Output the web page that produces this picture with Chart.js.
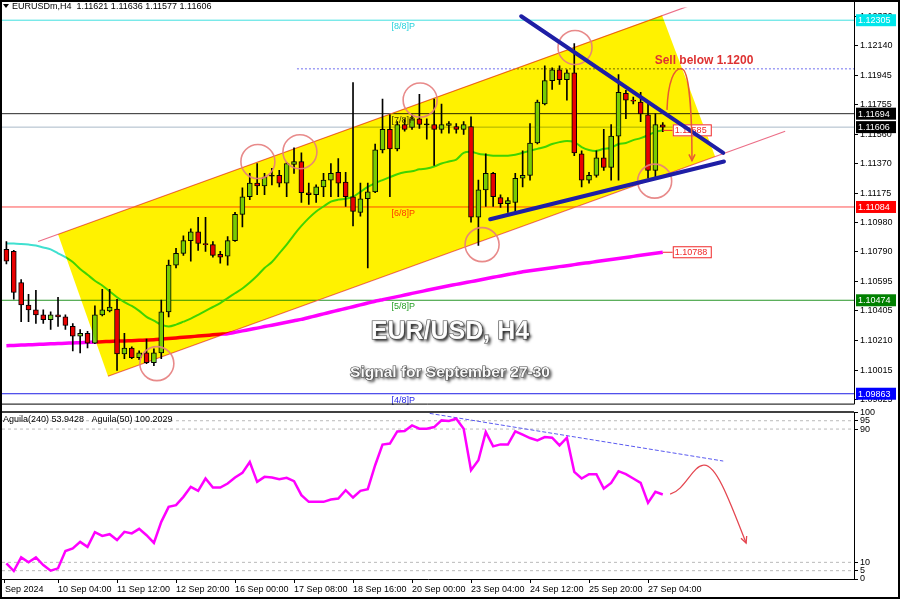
<!DOCTYPE html>
<html><head><meta charset="utf-8">
<script src="https://cdn.jsdelivr.net/npm/chart.js@4.4.1/dist/chart.umd.min.js"></script>
<style>
html,body{margin:0;padding:0;background:#fff;}
#wrap{position:relative;width:900px;height:599px;overflow:hidden;background:#fff;}
#c1{position:absolute;left:0;top:0;width:900px;height:411px;}
#c2{position:absolute;left:0;top:405px;width:900px;height:194px;}
#frame{position:absolute;left:0;top:0;width:900px;height:599px;box-sizing:border-box;border:2px solid #000;pointer-events:none;}
</style></head><body>
<div id="wrap"><canvas id="c1" width="900" height="411"></canvas><canvas id="c2" width="900" height="194"></canvas><div id="frame"></div></div>
<script>
// ---------- DATA ----------
const barIndex = Array.from({length:90},(_,i)=>i);
const openP = [1.10807,1.10794,1.10590,1.10443,1.10411,1.10379,1.10347,1.10379,1.10366,1.10303,
1.10239,1.10258,1.10194,1.10379,1.10405,1.10417,1.10124,1.10162,1.10098,1.10130,
1.10066,1.10130,1.10398,1.10704,1.10781,1.10864,1.10921,1.10845,1.10838,1.10775,
1.10762,1.10864,1.11036,1.11151,1.11240,1.11221,1.11285,1.11291,1.11240,1.11362,
1.11381,1.11177,1.11164,1.11215,1.11260,1.11311,1.11247,1.11151,1.11049,1.11138,
1.11183,1.11457,1.11591,1.11464,1.11623,1.11604,1.11661,1.11623,1.11623,1.11591,
1.11617,1.11610,1.11591,1.11610,1.11017,1.11196,1.11304,1.11145,1.11106,1.11113,
1.11272,1.11291,1.11502,1.11757,1.11910,1.11980,1.11917,1.11961,1.11432,1.11260,
1.11291,1.11406,1.11342,1.11547,1.11827,1.11783,1.11770,1.11687,1.11323,1.11621];
const highP = [1.10858,1.10800,1.10609,1.10513,1.10539,1.10411,1.10398,1.10494,1.10379,1.10322,
1.10283,1.10271,1.10437,1.10545,1.10545,1.10481,1.10258,1.10169,1.10143,1.10220,
1.10156,1.10475,1.10736,1.10813,1.10896,1.10941,1.11017,1.11017,1.10858,1.10794,
1.10890,1.11049,1.11209,1.11304,1.11368,1.11304,1.11336,1.11323,1.11374,1.11470,
1.11438,1.11240,1.11228,1.11304,1.11368,1.11400,1.11311,1.11898,1.11240,1.11240,
1.11496,1.11789,1.11687,1.11642,1.11661,1.11687,1.11821,1.11661,1.11789,1.11757,
1.11642,1.11630,1.11642,1.11674,1.11260,1.11432,1.11311,1.11164,1.11145,1.11304,
1.11451,1.11630,1.11783,1.12006,1.11993,1.12006,1.11980,1.12153,1.11451,1.11311,
1.11451,1.11591,1.11623,1.11949,1.11847,1.11802,1.11834,1.11757,1.11693,1.11636];
const lowP = [1.10711,1.10481,1.10334,1.10334,1.10322,1.10322,1.10283,1.10303,1.10283,1.10143,
1.10130,1.10162,1.10190,1.10372,1.10398,1.10015,1.10092,1.10092,1.10086,1.10060,
1.10047,1.10092,1.10366,1.10685,1.10768,1.10730,1.10800,1.10794,1.10756,1.10717,
1.10704,1.10858,1.10953,1.11132,1.11164,1.11164,1.11228,1.11215,1.11151,1.11304,
1.11113,1.11100,1.11113,1.11151,1.11151,1.11151,1.11087,1.10960,1.11024,1.10685,
1.11177,1.11438,1.11151,1.11451,1.11579,1.11591,1.11598,1.11528,1.11355,1.11566,
1.11566,1.11566,1.11559,1.10985,1.10832,1.11087,1.11087,1.11081,1.11049,1.11055,
1.11215,1.11260,1.11496,1.11751,1.11853,1.11885,1.11783,1.11419,1.11215,1.11240,
1.11279,1.11323,1.11260,1.11260,1.11661,1.11757,1.11642,1.11272,1.11279,1.11577];
const closeP = [1.10730,1.10526,1.10443,1.10411,1.10379,1.10347,1.10379,1.10366,1.10309,1.10239,
1.10258,1.10194,1.10379,1.10411,1.10430,1.10124,1.10162,1.10098,1.10130,1.10066,
1.10130,1.10398,1.10704,1.10781,1.10864,1.10921,1.10845,1.10838,1.10768,1.10756,
1.10864,1.11036,1.11151,1.11240,1.11221,1.11279,1.11287,1.11240,1.11368,1.11381,
1.11177,1.11164,1.11215,1.11260,1.11304,1.11240,1.11151,1.11055,1.11138,1.11183,
1.11457,1.11591,1.11464,1.11623,1.11591,1.11661,1.11623,1.11621,1.11591,1.11623,
1.11630,1.11591,1.11623,1.11017,1.11196,1.11304,1.11151,1.11106,1.11126,1.11272,
1.11291,1.11502,1.11770,1.11910,1.11980,1.11917,1.11961,1.11438,1.11260,1.11291,
1.11406,1.11342,1.11547,1.11834,1.11783,1.11776,1.11693,1.11323,1.11623,1.11606];
const ma21 = [1.10845,1.10845,1.10842,1.10838,1.10832,1.10819,1.10807,1.10781,1.10756,1.10724,
1.10679,1.10641,1.10602,1.10571,1.10532,1.10494,1.10462,1.10437,1.10405,1.10366,
1.10341,1.10315,1.10303,1.10315,1.10334,1.10354,1.10379,1.10405,1.10430,1.10456,
1.10488,1.10520,1.10551,1.10590,1.10634,1.10685,1.10724,1.10781,1.10838,1.10902,
1.10960,1.11011,1.11055,1.11087,1.11119,1.11132,1.11138,1.11151,1.11183,1.11215,
1.11240,1.11260,1.11279,1.11298,1.11311,1.11317,1.11330,1.11336,1.11349,1.11368,
1.11381,1.11394,1.11438,1.11445,1.11432,1.11425,1.11419,1.11419,1.11419,1.11425,
1.11438,1.11451,1.11464,1.11476,1.11496,1.11508,1.11515,1.11508,1.11476,1.11457,
1.11451,1.11464,1.11470,1.11496,1.11502,1.11521,1.11534,1.11553,1.11575,1.11585];
const ma200 = [1.10177,1.10179,1.10181,1.10183,1.10185,1.10187,1.10189,1.10191,1.10193,1.10195,
1.10197,1.10199,1.10201,1.10203,1.10205,1.10207,1.10208,1.10210,1.10212,1.10214,
1.10216,1.10220,1.10224,1.10228,1.10232,1.10236,1.10240,1.10244,1.10248,1.10252,
1.10255,1.10264,1.10274,1.10283,1.10292,1.10302,1.10311,1.10321,1.10330,1.10340,
1.10349,1.10361,1.10373,1.10385,1.10397,1.10409,1.10420,1.10432,1.10444,1.10456,
1.10468,1.10478,1.10488,1.10498,1.10508,1.10519,1.10529,1.10539,1.10549,1.10559,
1.10569,1.10578,1.10587,1.10596,1.10605,1.10615,1.10624,1.10633,1.10642,1.10651,
1.10660,1.10667,1.10674,1.10680,1.10687,1.10694,1.10700,1.10707,1.10714,1.10720,
1.10727,1.10734,1.10741,1.10747,1.10754,1.10761,1.10768,1.10775,1.10781,1.10788];
const aguila = [9.4,4.8,13.0,10.0,13.0,8.4,5.0,6.4,16.8,18.4,
22.3,19.3,28.1,25.9,26.9,23.4,28.3,27.4,30.1,26.3,
21.7,34.3,43.3,44.3,49.3,55.3,52.9,60.3,54.9,54.9,
57.3,60.9,63.7,70.2,58.3,61.3,60.9,59.9,60.7,58.7,
50.3,46.3,46.3,46.3,47.7,48.3,53.3,48.9,52.9,53.9,
68.3,80.7,81.3,88.6,88.8,92.2,90.2,90.2,91.2,95.2,
94.9,96.2,90.2,65.3,71.3,88.2,79.6,80.8,80.7,88.6,
86.6,84.6,83.2,85.2,84.8,80.2,84.8,64.3,60.3,62.9,
62.9,54.3,57.7,64.7,62.9,60.3,57.7,45.7,52.3,50.7];
const priceTicks = [1.12330,1.12140,1.11945,1.11755,1.11560,1.11370,1.11175,1.10980,1.10790,1.10595,1.10405,1.10210,1.10015,1.09825];
const indTicks = [100,95,90,10,5,0];
const indLevels = [95,90,10,5];
const xTickBars = [-0.2,7,15,23,31,39,47,55,63,71,79,87];
const xTickLabels = ['Sep 2024','10 Sep 04:00','11 Sep 12:00','12 Sep 20:00','16 Sep 00:00','17 Sep 08:00','18 Sep 16:00','20 Sep 00:00','23 Sep 04:00','24 Sep 12:00','25 Sep 20:00','27 Sep 04:00'];
const levelPrices = [1.12305,1.11694,1.11606,1.11084,1.10474,1.09863];
const levelTags = ['[8/8]P','[7/8]P','','[6/8]P','[5/8]P','[4/8]P'];
const sellLevel = 1.11987;
const sellLevelStartBar = 39.4;
const channelUpper = [[4.3,1.10858],[92.7,1.12401]];
const channelLower = [[13.78,1.09977],[105.6,1.11579]];
const channelFill = [[7.0,1.10905],[88.9,1.12338],[96.1,1.11414],[13.78,1.09977]];
const triUpper = [[69.8,1.12331],[97.2,1.11438]];
const triLower = [[65.6,1.11004],[97.3,1.11381]];
const circles = [[20.4,1.10060],[34.1,1.11381],[39.8,1.11445],[56.1,1.11783],[64.5,1.10838],[77.1,1.12127],[87.9,1.11253]];
const sellArrow = [[89.57,1.11719],[89.71,1.11898],[90.52,1.12000],[91.61,1.11987],[92.56,1.11974],[92.96,1.11706],[92.96,1.11387]];
const indTrend = [[57.4,99.4],[97.2,70.8]];
const indArrow = [[90.0,50.9],[92.0,53.3],[93.0,67.7],[94.5,68.3],[96.1,69.5],[97.8,50.3],[100.3,21.6]];
const sellText = 'Sell below 1.1200';
const sellTextAnchor = [87.9,1.12038];
const titleText = 'EUR/USD, H4';
const subtitleText = 'Signal for September 27-30';
const indHeader = 'Aguila(240) 53.9428   Aguila(50) 100.2029';

// ---------- STYLE / LAYOUT ----------
const FONT = '"Liberation Sans", Arial, sans-serif';
const X_MIN = -0.597, X_MAX = 114.93;
const Y_MIN = 1.097985, Y_MAX = 1.123888;
const levelColors = ['rgb(64,224,224)','rgb(40,40,40)','rgb(170,185,200)','rgb(255,80,80)','rgb(40,150,40)','rgb(30,30,230)'];
const levelTagColors = ['rgb(40,210,220)','rgb(60,60,60)','','rgb(255,60,40)','rgb(40,160,40)','rgb(40,40,230)'];
const levelBoxBg = ['rgb(0,230,235)','#000','#000','#f00','#008000','#0000ff'];
const TAG_BAR = 53.8;
const pts = a => a.map(p=>({x:p[0],y:p[1]}));
const GREEN='rgb(120,214,44)', RED='rgb(232,0,0)';
const bodyColor = barIndex.map(i => Math.abs(closeP[i]-openP[i]) < 0.00003 ? '#000' : (closeP[i] > openP[i] ? GREEN : RED));

Chart.defaults.font.family = FONT;

function arrowHead(ctx, fx, fy, tx, ty, len){
  const a = Math.atan2(ty-fy, tx-fx);
  ctx.beginPath();
  ctx.moveTo(tx - len*Math.cos(a-0.45), ty - len*Math.sin(a-0.45));
  ctx.lineTo(tx, ty);
  ctx.lineTo(tx - len*Math.cos(a+0.45), ty - len*Math.sin(a+0.45));
  ctx.stroke();
}

const mainPlugin = {
  id:'mainDecor',
  afterDatasetsDraw(chart){
    const ctx=chart.ctx, xs=chart.scales.x, ys=chart.scales.y, ca=chart.chartArea;
    const X=v=>xs.getPixelForValue(v), Y=v=>ys.getPixelForValue(v);
    ctx.save();
    ctx.font='9px '+FONT; ctx.textAlign='center'; ctx.textBaseline='top';
    levelTags.forEach((t,k)=>{ if(!t) return; ctx.fillStyle=levelTagColors[k]; ctx.fillText(t, X(TAG_BAR), Y(levelPrices[k])+2); });
    ctx.restore();
    ctx.save();
    ctx.beginPath(); ctx.rect(ca.left,ca.top,ca.right-ca.left,ca.bottom-ca.top); ctx.clip();
    ctx.globalCompositeOperation='multiply';
    ctx.fillStyle='rgb(255,242,0)';
    ctx.beginPath();
    channelFill.forEach((p,k)=>{const px=X(p[0]),py=Y(p[1]); if(k) ctx.lineTo(px,py); else ctx.moveTo(px,py);});
    ctx.closePath(); ctx.fill();
    ctx.restore();
    ctx.save();
    ctx.font='9px '+FONT; ctx.textBaseline='middle'; ctx.textAlign='left';
    [ma21[89], ma200[89]].forEach(v=>{
      const x0=X(89), bx=x0+10, by=Y(v);
      ctx.strokeStyle='rgb(240,40,40)'; ctx.lineWidth=1;
      ctx.beginPath(); ctx.moveTo(x0,by); ctx.lineTo(bx,by); ctx.stroke();
      ctx.fillStyle='#fff'; ctx.fillRect(bx,by-6,39,12);
      ctx.strokeRect(bx+0.5,by-5.5,38,11);
      ctx.fillStyle='rgb(240,40,40)'; ctx.fillText(v.toFixed(5), bx+2, by+0.5);
    });
    ctx.restore();
    ctx.save();
    ctx.beginPath(); ctx.rect(ca.left,ca.top,ca.right-ca.left,ca.bottom-ca.top); ctx.clip();
    ctx.strokeStyle='rgba(230,125,125,0.9)'; ctx.lineWidth=1.6;
    circles.forEach(c=>{ ctx.beginPath(); ctx.arc(X(c[0]),Y(c[1]),17,0,Math.PI*2); ctx.stroke(); });
    ctx.strokeStyle='rgb(30,30,165)'; ctx.lineWidth=4; ctx.lineCap='round';
    [triUpper,triLower].forEach(l=>{ ctx.beginPath(); ctx.moveTo(X(l[0][0]),Y(l[0][1])); ctx.lineTo(X(l[1][0]),Y(l[1][1])); ctx.stroke(); });
    const A=sellArrow.map(p=>[X(p[0]),Y(p[1])]);
    ctx.strokeStyle='rgb(232,90,50)'; ctx.lineWidth=1.5; ctx.lineCap='butt';
    ctx.beginPath(); ctx.moveTo(A[0][0],A[0][1]);
    ctx.bezierCurveTo(A[1][0],A[1][1],A[2][0],A[2][1],A[3][0],A[3][1]);
    ctx.bezierCurveTo(A[4][0],A[4][1],A[5][0],A[5][1],A[6][0],A[6][1]);
    ctx.stroke();
    arrowHead(ctx,A[5][0],A[5][1],A[6][0],A[6][1],7);
    ctx.restore();
    ctx.save();
    ctx.font='bold 12px '+FONT; ctx.fillStyle='rgb(222,50,50)'; ctx.textBaseline='middle'; ctx.textAlign='left';
    ctx.fillText(sellText, X(sellTextAnchor[0]), Y(sellTextAnchor[1]));
    const cx=(ca.left+ca.right)/2 + 22;
    ctx.textAlign='center';
    [[titleText,'bold 25px ',332],[subtitleText,'bold 15.5px ',373]].forEach(t=>{
      ctx.font=t[1]+FONT;
      ctx.shadowColor='rgba(0,0,0,0.9)'; ctx.shadowOffsetX=2; ctx.shadowOffsetY=2; ctx.shadowBlur=3;
      ctx.fillStyle='#fff'; ctx.fillText(t[0],cx,t[2]);
      ctx.shadowColor='transparent';
      ctx.lineWidth=1.2; ctx.strokeStyle='rgba(60,60,60,0.95)'; ctx.strokeText(t[0],cx,t[2]);
      ctx.fillStyle='rgba(255,255,255,0.92)'; ctx.fillText(t[0],cx,t[2]);
    });
    ctx.restore();
  },
  afterDraw(chart){
    const ctx=chart.ctx, ys=chart.scales.y, ca=chart.chartArea;
    const Y=v=>ys.getPixelForValue(v);
    ctx.save();
    ctx.strokeStyle='#000'; ctx.lineWidth=1;
    ctx.beginPath(); ctx.moveTo(ca.right+0.5,0); ctx.lineTo(ca.right+0.5,ca.bottom+0.5); ctx.lineTo(0,ca.bottom+0.5); ctx.stroke();
    ctx.font='9px '+FONT; ctx.textBaseline='middle'; ctx.textAlign='left';
    levelPrices.forEach((v,k)=>{
      const val = k===2 ? closeP[89] : v;
      const y=Y(val);
      ctx.fillStyle=levelBoxBg[k]; ctx.fillRect(ca.right+2,y-6,40,12);
      ctx.fillStyle='#fff'; ctx.fillText(val.toFixed(5), ca.right+4, y+0.5);
    });
    ctx.fillStyle='#000'; ctx.font='9px '+FONT; ctx.textBaseline='middle';
    ctx.beginPath(); ctx.moveTo(3,4); ctx.lineTo(9,4); ctx.lineTo(6,8); ctx.closePath(); ctx.fill();
    ctx.fillText('EURUSDm,H4  '+openP[89].toFixed(5)+' '+highP[89].toFixed(5)+' '+lowP[89].toFixed(5)+' '+closeP[89].toFixed(5), 12, 6.5);
    ctx.restore();
  }
};

const mainDatasets = [];
levelPrices.forEach((v,k)=>mainDatasets.push({type:'line', data:[{x:X_MIN,y:v},{x:X_MAX,y:v}], borderColor:levelColors[k], borderWidth:1, pointRadius:0, order:60}));
mainDatasets.push({type:'line', data:[{x:sellLevelStartBar,y:sellLevel},{x:X_MAX,y:sellLevel}], borderColor:'rgb(110,110,240)', borderWidth:1, borderDash:[2,2], pointRadius:0, order:55});
mainDatasets.push({type:'line', data:pts(channelUpper), borderColor:'rgb(236,110,135)', borderWidth:1.2, pointRadius:0, order:50});
mainDatasets.push({type:'line', data:pts(channelLower), borderColor:'rgb(236,110,135)', borderWidth:1.2, pointRadius:0, order:50});
mainDatasets.push({type:'line', data:barIndex.map(i=>({x:i,y:ma200[i]})), borderColor:'rgb(255,0,255)', borderWidth:3.5, pointRadius:0, tension:0.2, order:40});
mainDatasets.push({type:'line', data:barIndex.map(i=>({x:i,y:ma21[i]})), borderColor:'rgb(64,224,208)', borderWidth:2, pointRadius:0, tension:0.3, order:35});
mainDatasets.push({type:'bar', data:barIndex.map(i=>({x:i,y:[lowP[i],highP[i]]})), backgroundColor:'#000', barThickness:1, maxBarThickness:1, grouped:false, order:20});
mainDatasets.push({type:'bar', data:barIndex.map(i=>({x:i,y:[Math.min(openP[i],closeP[i]),Math.max(openP[i],closeP[i])]})), backgroundColor:bodyColor, borderColor:'#000', borderWidth:1, borderSkipped:false, barThickness:5, maxBarThickness:5, minBarLength:1, grouped:false, order:10});

new Chart(document.getElementById('c1'), {
  type:'line',
  data:{datasets:mainDatasets},
  options:{
    responsive:false, animation:false, events:[], devicePixelRatio:1,
    layout:{padding:{left:2,top:3,right:0,bottom:2}},
    plugins:{legend:{display:false}, tooltip:{enabled:false}},
    scales:{
      x:{type:'linear', min:X_MIN, max:X_MAX, offset:false, display:false},
      y:{type:'linear', position:'right', min:Y_MIN, max:Y_MAX,
        afterFit(s){s.width=46;},
        afterBuildTicks(s){s.ticks=priceTicks.map(v=>({value:v}));},
        ticks:{autoSkip:false, padding:2, color:'#000', font:{family:FONT,size:9}, callback:v=>Number(v).toFixed(5)},
        grid:{drawOnChartArea:false, drawTicks:true, tickLength:4, color:'#000'},
        border:{display:false}}
    }
  },
  plugins:[mainPlugin]
});

const indPlugin = {
  id:'indDecor',
  afterDatasetsDraw(chart){
    const ctx=chart.ctx, xs=chart.scales.x, ys=chart.scales.y, ca=chart.chartArea;
    const X=v=>xs.getPixelForValue(v), Y=v=>ys.getPixelForValue(v);
    ctx.save();
    const A=indArrow.map(p=>[X(p[0]),Y(p[1])]);
    ctx.strokeStyle='rgb(228,70,80)'; ctx.lineWidth=1.3;
    ctx.beginPath(); ctx.moveTo(A[0][0],A[0][1]);
    ctx.bezierCurveTo(A[1][0],A[1][1],A[2][0],A[2][1],A[3][0],A[3][1]);
    ctx.bezierCurveTo(A[4][0],A[4][1],A[5][0],A[5][1],A[6][0],A[6][1]);
    ctx.stroke();
    arrowHead(ctx,A[5][0],A[5][1],A[6][0],A[6][1],7);
    ctx.fillStyle='#000'; ctx.font='9px '+FONT; ctx.textBaseline='middle'; ctx.textAlign='left';
    ctx.fillText(indHeader, 3, ca.top+7);
    ctx.strokeStyle='#000'; ctx.lineWidth=1.5;
    ctx.beginPath(); ctx.moveTo(0,ca.top-0.5); ctx.lineTo(ca.right,ca.top-0.5); ctx.stroke();
    ctx.restore();
  }
};

const indDatasets = [];
indLevels.forEach(v=>indDatasets.push({type:'line', data:[{x:X_MIN,y:v},{x:X_MAX,y:v}], borderColor:'rgb(185,185,185)', borderWidth:1, borderDash:[3,3], pointRadius:0, order:50}));
indDatasets.push({type:'line', data:pts(indTrend), borderColor:'rgb(90,90,240)', borderWidth:1, borderDash:[4,2], pointRadius:0, order:40});
indDatasets.push({type:'line', data:barIndex.map(i=>({x:i,y:aguila[i]})), borderColor:'rgb(255,0,255)', borderWidth:2.5, pointRadius:0, order:10});

new Chart(document.getElementById('c2'), {
  type:'line',
  data:{datasets:indDatasets},
  options:{
    responsive:false, animation:false, events:[], devicePixelRatio:1,
    layout:{padding:{left:2,top:7,right:0,bottom:2}},
    plugins:{legend:{display:false}, tooltip:{enabled:false}},
    scales:{
      x:{type:'linear', min:X_MIN, max:X_MAX, offset:false, position:'bottom',
        afterFit(s){s.height=18;},
        afterBuildTicks(s){s.ticks=xTickBars.map(v=>({value:v}));},
        ticks:{autoSkip:false, maxRotation:0, minRotation:0, align:'start', padding:1, color:'#000', font:{family:FONT,size:9}, callback:(v,i)=>xTickLabels[i]},
        grid:{drawOnChartArea:false, drawTicks:true, tickLength:4, color:'#000'},
        border:{display:true, color:'#000'}},
      y:{type:'linear', position:'right', min:0, max:100,
        afterFit(s){s.width=46;},
        afterBuildTicks(s){s.ticks=indTicks.map(v=>({value:v}));},
        ticks:{autoSkip:false, padding:2, color:'#000', font:{family:FONT,size:9}, callback:v=>String(v)},
        grid:{drawOnChartArea:false, drawTicks:true, tickLength:4, color:'#000'},
        border:{display:true, color:'#000'}}
    }
  },
  plugins:[indPlugin]
});
</script>
</body></html>
